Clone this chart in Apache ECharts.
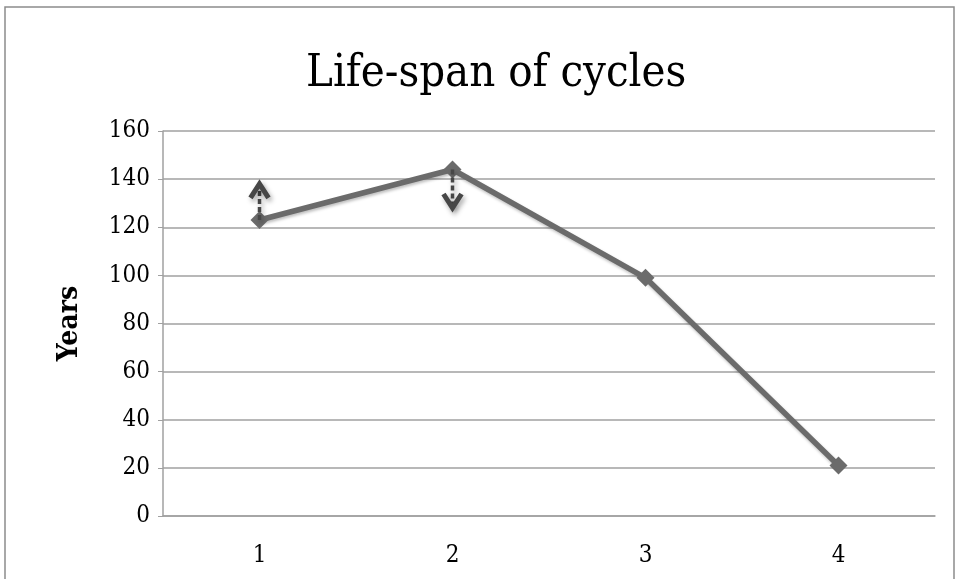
<!DOCTYPE html>
<html>
<head>
<meta charset="utf-8">
<title>Life-span of cycles</title>
<script src="https://cdn.jsdelivr.net/npm/echarts@6/dist/echarts.min.js"></script>
<style>
  html, body { margin: 0; padding: 0; background: #fff; }
  #chart { width: 957px; height: 579px; }
</style>
</head>
<body>
<div id="chart"></div>
<script>
  // chart values
  const cycles = ['1', '2', '3', '4'];
  const years = [123, 144, 99, 21];
  // trend arrows: [cycle index, from, to]
  const arrowFrom = [123, 144];
  const arrowTo = [138, 128];
  const arrowCycle = [0, 1];

  const chart = echarts.init(document.getElementById('chart'));
  const serif = '"DejaVu Serif Condensed", "DejaVu Serif", serif';

  const arrowData = arrowCycle.map((c, i) => [c, arrowFrom[i], arrowTo[i]]);

  const renderArrow = function (params, api) {
    const p0 = api.coord([api.value(0), api.value(1)]);
    const p1 = api.coord([api.value(0), api.value(2)]);
    const dir = p1[1] < p0[1] ? 1 : -1; // 1 = pointing up
    const style = {
      stroke: '#474747',
      lineWidth: 5,
      fill: 'none',
      lineJoin: 'miter',
      shadowBlur: 5,
      shadowOffsetX: 2,
      shadowOffsetY: 3,
      shadowColor: 'rgba(0,0,0,0.35)'
    };
    return {
      type: 'group',
      children: [
        {
          type: 'line',
          shape: { x1: p0[0], y1: p0[1], x2: p1[0], y2: p1[1] },
          style: Object.assign({}, style, { lineDash: [5, 3], lineWidth: 3.5 })
        },
        {
          type: 'polyline',
          shape: {
            points: [
              [p1[0] - 9, p1[1] + dir * 14],
              [p1[0], p1[1]],
              [p1[0] + 9, p1[1] + dir * 14]
            ]
          },
          style: style
        }
      ]
    };
  };

  chart.setOption({
    animation: false,
    title: {
      text: 'Life-span of cycles',
      left: 301,
      top: 47,
      textStyle: {
        fontFamily: serif,
        fontWeight: 'normal',
        fontSize: 45,
        color: '#000'
      }
    },
    graphic: [
      {
        type: 'rect',
        shape: { x: 5, y: 7, width: 949, height: 600 },
        style: { fill: 'none', stroke: '#8c8c8c', lineWidth: 1.5 },
        silent: true
      }
    ],
    grid: {
      left: 163,
      right: 22,
      top: 131,
      bottom: 63
    },
    xAxis: {
      type: 'category',
      data: cycles,
      boundaryGap: true,
      axisLine: { lineStyle: { color: '#a0a0a0', width: 1.5 } },
      axisTick: { show: false },
      axisLabel: {
        fontFamily: serif,
        fontSize: 24,
        color: '#000',
        margin: 28
      }
    },
    yAxis: {
      type: 'value',
      min: 0,
      max: 160,
      interval: 20,
      name: 'Years',
      nameLocation: 'middle',
      nameGap: 79,
      nameTextStyle: {
        fontFamily: serif,
        fontWeight: 'bold',
        fontSize: 28,
        color: '#000'
      },
      axisLine: { show: true, lineStyle: { color: '#a0a0a0', width: 1.5 } },
      axisTick: { show: true, length: 5, lineStyle: { color: '#a0a0a0' } },
      axisLabel: {
        fontFamily: serif,
        fontSize: 24,
        color: '#000',
        margin: 13
      },
      splitLine: { lineStyle: { color: '#a0a0a0', width: 1.5 } }
    },
    series: [
      {
        type: 'line',
        data: years,
        symbol: 'diamond',
        symbolSize: 18,
        lineStyle: {
          color: '#6b6b6b',
          width: 5.5,
          shadowBlur: 3,
          shadowOffsetX: 1,
          shadowOffsetY: 2,
          shadowColor: 'rgba(0,0,0,0.25)'
        },
        itemStyle: { color: '#6b6b6b', borderWidth: 0 },
        z: 3
      },
      {
        type: 'custom',
        data: arrowData,
        renderItem: renderArrow,
        encode: { x: 0, y: [1, 2] },
        z: 4
      }
    ]
  });
</script>
</body>
</html>
